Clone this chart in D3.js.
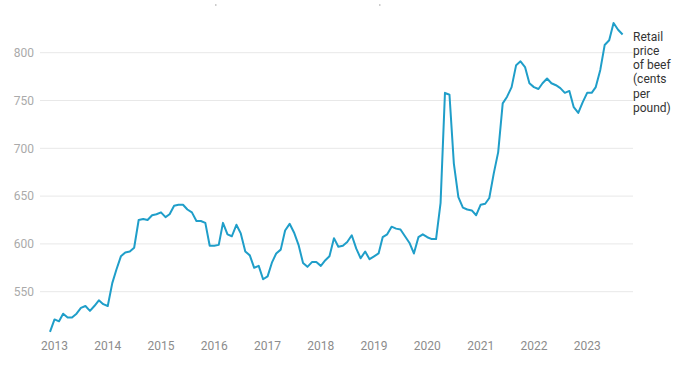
<!DOCTYPE html>
<html>
<head>
<meta charset="utf-8">
<script src="https://cdn.jsdelivr.net/npm/d3@7"></script>
<style>
  body { margin: 0; background: #fff; }
  svg { display: block; font-family: Roboto, "Noto Sans", sans-serif; }
</style>
</head>
<body>
<div id="chart"></div>
<script>
// monthly retail beef price, cents per pound, Dec 2012 - Sep 2023
const firstMonth = "2012-12";
const beefPrice = [
  508, 521, 519, 527, 523, 523, 527, 533, 535, 530, 535, 541,
  537, 535, 559, 573, 587, 591, 592, 596, 625, 626, 625, 630,
  631, 633, 628, 631, 640, 641, 641, 636, 633, 624, 624, 622,
  598, 598, 599, 622, 610, 608, 620, 611, 592, 588, 575, 577,
  563, 566, 581, 590, 594, 614, 621, 612, 599, 580, 576, 581,
  581, 577, 583, 587, 606, 597, 598, 602, 609, 595, 585, 592,
  584, 587, 590, 607, 610, 618, 616, 615, 608, 601, 590, 607,
  610, 607, 605, 605, 643, 758, 756, 684, 649, 638, 636, 635,
  630, 641, 642, 648, 674, 696, 747, 754, 764, 787, 791, 785,
  768, 764, 762, 768, 773, 768, 766, 763, 758, 760, 743, 737,
  748, 758, 758, 764, 782, 808, 813, 831, 824, 819
];
const yTicks = [550, 600, 650, 700, 750, 800];
const xTickYears = [2013, 2014, 2015, 2016, 2017, 2018, 2019, 2020, 2021, 2022, 2023];
const labelLines = ["Retail", "price", "of beef", "(cents", "per", "pound)"];

const width = 700, height = 368;
const parseMonth = d3.timeParse("%Y-%m");
const start = parseMonth(firstMonth);

const data = beefPrice.map(function(v, i) {
  return { date: d3.timeMonth.offset(start, i), value: v };
});

const svg = d3.select("#chart")
  .append("svg")
    .attr("width", width)
    .attr("height", height);

const x = d3.scaleTime()
  .domain([data[0].date, data[data.length - 1].date])
  .range([50, 622.6]);

const y = d3.scaleLinear()
  .domain([550, 800])
  .range([291.7, 52.7]);

const gridLeft = 40, gridRight = 633;

// horizontal grid
svg.append("g")
  .selectAll("line")
  .data(yTicks)
  .join("line")
    .attr("x1", gridLeft)
    .attr("x2", gridRight)
    .attr("y1", d => y(d))
    .attr("y2", d => y(d))
    .attr("stroke", "#e8e8e8")
    .attr("stroke-width", 1);

// y labels
svg.append("g")
  .selectAll("text")
  .data(yTicks)
  .join("text")
    .attr("x", 34)
    .attr("y", d => y(d))
    .attr("dy", "0.35em")
    .attr("text-anchor", "end")
    .attr("font-size", "12px")
    .attr("fill", "#aaaaaa")
    .text(d => d);

// x labels
svg.append("g")
  .selectAll("text")
  .data(xTickYears)
  .join("text")
    .attr("x", d => x(new Date(d, 0, 1)))
    .attr("y", 349.5)
    .attr("text-anchor", "middle")
    .attr("font-size", "12px")
    .attr("fill", "#8c8c8c")
    .text(d => d);

// the line
const line = d3.line()
  .x(d => x(d.date))
  .y(d => y(d.value));

svg.append("path")
  .datum(data)
  .attr("d", line)
  .attr("fill", "none")
  .attr("stroke", "#1f9ec9")
  .attr("stroke-width", 2)
  .attr("stroke-linejoin", "round");

// series label
svg.append("text")
  .attr("x", 633)
  .attr("y", 40.5)
  .attr("font-size", "12px")
  .attr("fill", "#333333")
  .selectAll("tspan")
  .data(labelLines)
  .join("tspan")
    .attr("x", 633)
    .attr("dy", (d, i) => i === 0 ? 0 : 14.3)
    .text(d => d);

// little marks left over at the top edge
svg.append("g")
  .selectAll("line")
  .data([215, 379])
  .join("line")
    .attr("x1", d => d)
    .attr("x2", d => d + 1.5)
    .attr("y1", 5)
    .attr("y2", 5)
    .attr("stroke", "#999")
    .attr("stroke-width", 1);
</script>
</body>
</html>
